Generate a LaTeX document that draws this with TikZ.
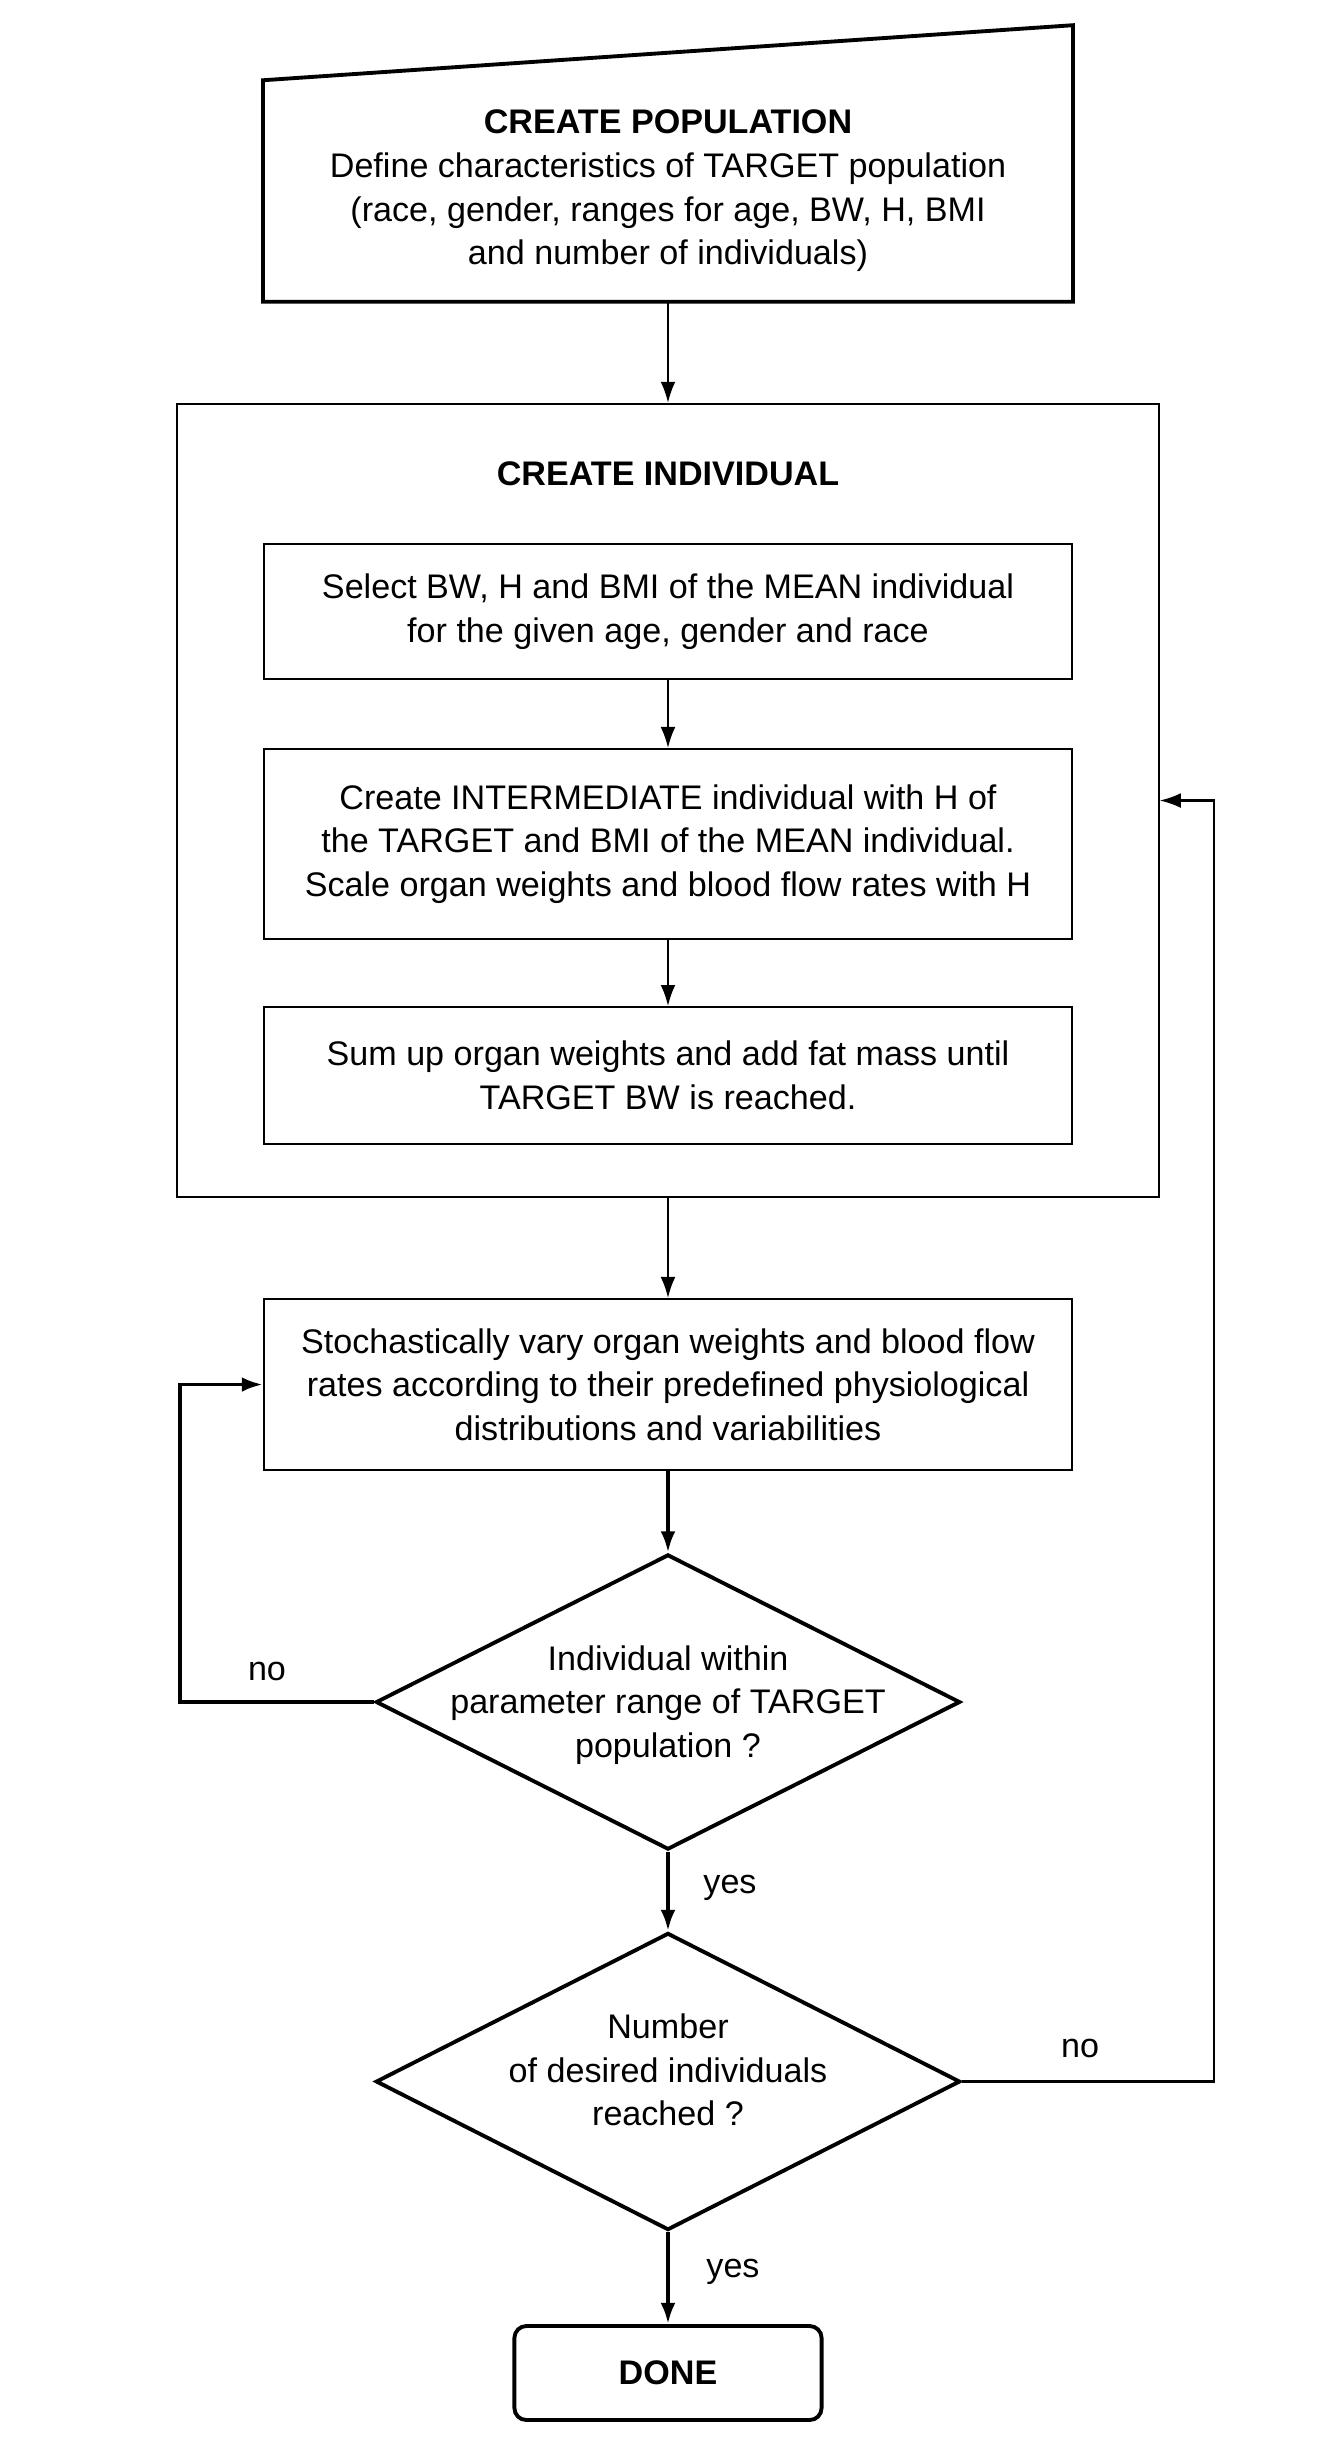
\documentclass[tikz,border=0pt]{standalone}
\usepackage{fontspec}
\setmainfont{Liberation Sans}
\usetikzlibrary{arrows.meta,shapes.geometric}
\begin{document}
\begin{tikzpicture}[x=0.01cm,y=-0.01cm,
  every node/.style={font=\fontsize{9.7}{12.4}\selectfont},
  txt/.style={align=center, inner sep=0pt},
  box/.style={draw, line width=0.5pt, minimum width=8.08cm, align=center, inner sep=0pt},
  dia/.style={draw, diamond, line width=1.1pt, inner sep=0pt},
  arr/.style={line width=0.6pt, -{Latex[length=6pt,width=4.2pt]}},
  tarr/.style={line width=1.1pt, -{Latex[length=6pt,width=4.2pt]}},
  lbl/.style={inner sep=0pt}
]
\useasboundingbox (0,0) rectangle (1324,2438);

% create population (manual input shape)
\node[txt, minimum width=8.08cm, minimum height=2.20cm] (pop) at (668,191)
  {\textbf{CREATE POPULATION}\\Define characteristics of TARGET population\\(race, gender, ranges for age, BW, H, BMI\\and number of individuals)};
\draw[line width=1.1pt] (pop.south west) -- (pop.north west) -- ([yshift=0.55cm]pop.north east) -- (pop.south east) -- cycle;

% create individual container
\node[draw, line width=0.5pt, minimum width=9.81cm, minimum height=7.93cm, inner sep=0pt] (ind) at (668,800.5) {};
\node[txt] (indt) at (668,474) {\textbf{CREATE INDIVIDUAL}};

\node[box, minimum height=1.35cm] (b1) at (668,611.5)
  {Select BW, H and BMI of the MEAN individual\\for the given age, gender and race};
\node[box, minimum height=1.90cm] (b2) at (668,844)
  {Create INTERMEDIATE individual with H of\\the TARGET and BMI of the MEAN individual.\\Scale organ weights and blood flow rates with H};
\node[box, minimum height=1.37cm] (b3) at (668,1075.5)
  {Sum up organ weights and add fat mass until\\TARGET BW is reached.};
\node[box, minimum height=1.71cm] (b4) at (668,1384.5)
  {Stochastically vary organ weights and blood flow\\rates according to their predefined physiological\\distributions and variabilities};

% decisions
\node[dia, minimum width=5.84cm, minimum height=2.95cm] (d1) at (668,1702) {};
\node[txt] (d1t) at (668,1705) {Individual within\\parameter range of TARGET\\population ?};
\node[dia, minimum width=5.84cm, minimum height=2.97cm] (d2) at (668,2081.5) {};
\node[txt] (d2t) at (668,2070) {Number\\of desired individuals\\reached ?};

\node[draw, line width=1.1pt, rounded corners=0.12cm, minimum width=3.07cm, minimum height=0.94cm, inner sep=0pt] (done) at (668,2373) {\textbf{DONE}};

% connectors
\draw[arr] (pop.south) -- (ind.north);
\draw[arr] (b1) -- (b2);
\draw[arr] (b2) -- (b3);
\draw[arr] (ind.south) -- (b4.north);
\draw[tarr] (b4.south) -- (d1.north);
\draw[tarr] (d1.west) -- ++(-194,0) |- (b4.west);
\draw[tarr] (d1.south) -- (d2.north);
\draw[arr] (d2.east) -- ++(252,0) |- (ind.east);
\draw[tarr] (d2.south) -- (done.north);

% labels
\node[lbl] (no1) at (267,1671) {no};
\node[lbl] (yes1) at (730,1888) {yes};
\node[lbl] (no2) at (1080,2048) {no};
\node[lbl] (yes2) at (733,2272) {yes};
\end{tikzpicture}
\end{document}
